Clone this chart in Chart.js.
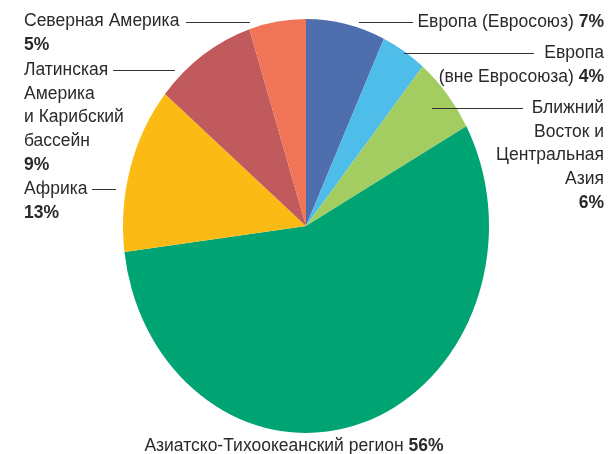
<!DOCTYPE html>
<html lang="ru">
<head>
<meta charset="utf-8">
<script src="https://cdn.jsdelivr.net/npm/chart.js@4.4.1/dist/chart.umd.min.js"></script>
<style>
  html, body { margin: 0; padding: 0; background: #fff; }
  #wrap { width: 608px; height: 454px; }
</style>
</head>
<body>
<div id="wrap"><canvas id="pie" width="608" height="454"></canvas></div>
<script>
// data
const regions = [
    'Европа (Евросоюз)',
    'Европа (вне Евросоюза)',
    'Ближний Восток и Центральная Азия',
    'Азиатско-Тихоокеанский регион',
    'Африка',
    'Латинская Америка и Карибский бассейн',
    'Северная Америка'
];
const shares = [7, 4, 6, 56, 13, 9, 5];
const sliceColors = ['#4e6eae', '#4fbdea', '#a4cd61', '#00a473', '#fcbb14', '#c05a5c', '#f07557'];

// label layout: text lines (percent goes after the last line or below it), anchor, leader line
const labelLayout = [
    { lines: ['Европа (Евросоюз) '], align: 'right', x: 604, y: 22, inline: true, lead: [359, 413, 22] },
    { lines: ['Европа', '(вне Евросоюза) '], align: 'right', x: 604, y: 53, inline: true, lead: [404, 534, 53] },
    { lines: ['Ближний', 'Восток и', 'Центральная', 'Азия'], align: 'right', x: 604, y: 108, lead: [432, 523, 108] },
    { lines: ['Азиатско-Тихоокеанский регион '], align: 'center', x: 294, y: 446, inline: true },
    { lines: ['Африка'], align: 'left', x: 24, y: 189, lead: [92, 116, 189] },
    { lines: ['Латинская', 'Америка', 'и Карибский', 'бассейн'], align: 'left', x: 24, y: 70, lead: [113, 175, 70] },
    { lines: ['Северная Америка'], align: 'left', x: 24, y: 21, lead: [186, 250, 22] }
];

const FONT = 'Liberation Sans, Arial, sans-serif';
const SIZE = 17.5;
const LINE_H = 23.8;
const TEXT_COLOR = '#2b2a29';
const STRETCH_Y = 207 / 183;

// the original pie is slightly taller than wide
const ellipsePlugin = {
    id: 'ellipse',
    beforeDatasetsDraw(chart) {
        const arc = chart.getDatasetMeta(0).data[0];
        const ctx = chart.ctx;
        ctx.save();
        ctx.translate(arc.x, arc.y);
        ctx.scale(1, STRETCH_Y);
        ctx.translate(-arc.x, -arc.y);
    },
    afterDatasetsDraw(chart) {
        chart.ctx.restore();
    }
};

const labelPlugin = {
    id: 'labels',
    afterDraw(chart) {
        const ctx = chart.ctx;
        const regular = SIZE + 'px ' + FONT;
        const bold = 'bold ' + SIZE + 'px ' + FONT;
        ctx.save();
        ctx.textBaseline = 'middle';
        ctx.fillStyle = TEXT_COLOR;
        ctx.strokeStyle = '#333';
        ctx.lineWidth = 1;
        labelLayout.forEach((lab, i) => {
            const pct = shares[i] + '%';
            let y = lab.y;
            const n = lab.lines.length;
            lab.lines.forEach((line, j) => {
                const last = j === n - 1;
                ctx.font = regular;
                const w1 = ctx.measureText(line).width;
                let w2 = 0;
                if (last && lab.inline) {
                    ctx.font = bold;
                    w2 = ctx.measureText(pct).width;
                }
                let x0 = lab.x;
                if (lab.align === 'right') x0 = lab.x - w1 - w2;
                if (lab.align === 'center') x0 = lab.x - (w1 + w2) / 2;
                ctx.textAlign = 'left';
                ctx.font = regular;
                ctx.fillText(line, x0, y);
                if (last && lab.inline) {
                    ctx.font = bold;
                    ctx.fillText(pct, x0 + w1, y);
                }
                y += LINE_H;
            });
            if (!lab.inline) {
                ctx.font = bold;
                ctx.textAlign = lab.align;
                ctx.fillText(pct, lab.x, y);
            }
            if (lab.lead) {
                const [xa, xb, ly] = lab.lead;
                ctx.beginPath();
                ctx.moveTo(xa, ly + 0.5);
                ctx.lineTo(xb, ly + 0.5);
                ctx.stroke();
            }
        });
        ctx.restore();
    }
};

new Chart(document.getElementById('pie'), {
    type: 'pie',
    data: {
        labels: regions,
        datasets: [{
            data: shares,
            backgroundColor: sliceColors,
            borderWidth: 0
        }]
    },
    options: {
        responsive: false,
        animation: false,
        layout: { padding: { left: 123, right: 119, top: 43, bottom: 45 } },
        plugins: {
            legend: { display: false },
            tooltip: { enabled: false }
        }
    },
    plugins: [ellipsePlugin, labelPlugin]
});
</script>
</body>
</html>
